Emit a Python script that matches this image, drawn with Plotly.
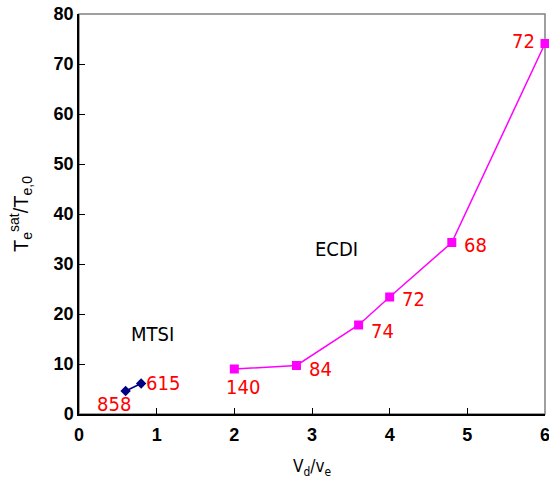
import plotly.graph_objects as go

# Data
mtsi_x = [0.6, 0.8]
mtsi_y = [4.6, 6.1]
mtsi_labels = ["858", "615"]
ecdi_x = [2.0, 2.8, 3.6, 4.0, 4.8, 6.0]
ecdi_y = [9.0, 9.7, 17.8, 23.4, 34.3, 74.1]
ecdi_labels = ["140", "84", "74", "72", "68", "72"]
x_ticks = [0, 1, 2, 3, 4, 5, 6]
y_ticks = [0, 10, 20, 30, 40, 50, 60, 70, 80]

FNT = "DejaVu Sans Condensed, DejaVu Sans, sans-serif"
lab_font = dict(family=FNT, size=20, color="red")
txt_font = dict(family=FNT, size=20, color="black")

fig = go.Figure()
fig.add_trace(go.Scatter(x=ecdi_x, y=ecdi_y, mode="lines+markers",
                         line=dict(color="#ff00ff", width=1.5),
                         marker=dict(symbol="square", size=9, color="#ff00ff"),
                         showlegend=False, cliponaxis=False))
fig.add_trace(go.Scatter(x=mtsi_x, y=mtsi_y, mode="lines+markers",
                         line=dict(color="#000080", width=1.5),
                         marker=dict(symbol="diamond", size=8, color="#000080"),
                         showlegend=False, cliponaxis=False))

# label offsets (pixels)
mtsi_off = [(-12, 13), (22, -1)]
ecdi_off = [(9, 18), (24, 3), (24, 6), (24, 2), (24, 2), (-22, -3)]
for x, y, t, (dx, dy) in zip(mtsi_x, mtsi_y, mtsi_labels, mtsi_off):
    fig.add_annotation(x=x, y=y, text=t, showarrow=False, xshift=dx, yshift=-dy, font=lab_font)
for x, y, t, (dx, dy) in zip(ecdi_x, ecdi_y, ecdi_labels, ecdi_off):
    fig.add_annotation(x=x, y=y, text=t, showarrow=False, xshift=dx, yshift=-dy, font=lab_font)

fig.add_annotation(x=0.95, y=16.0, text="MTSI", showarrow=False, font=txt_font)
fig.add_annotation(x=3.32, y=33.0, text="ECDI", showarrow=False, font=txt_font)

# gray top/right frame
fig.add_shape(type="rect", xref="paper", yref="paper", x0=0, y0=0, x1=1, y1=1,
              line=dict(color="#808080", width=1.5), layer="below")

axis_font = dict(family="Arial, Liberation Sans, sans-serif", size=18, color="black", weight="bold")
fig.update_layout(
    width=549, height=483,
    margin=dict(l=79, r=4, t=14, b=69),
    plot_bgcolor="white", paper_bgcolor="white",
    xaxis=dict(range=[0, 6], tickvals=x_ticks, automargin=False,
               ticks="inside", ticklen=6, tickcolor="black", showgrid=False, zeroline=False,
               showline=True, linecolor="black", linewidth=1.5, tickfont=axis_font,
               ticklabeloverflow="allow", ticklabelstandoff=4,
               title=dict(text="V<sub>d</sub>/v<sub>e</sub>", font=dict(family=FNT, size=17, color="black"), standoff=16)),
    yaxis=dict(range=[0, 80], tickvals=y_ticks, automargin=False,
               ticks="inside", ticklen=6, tickcolor="black", showgrid=False, zeroline=False,
               showline=True, linecolor="black", linewidth=1.5, tickfont=axis_font,
               title=dict(text="T<sub>e</sub><sup>sat</sup>/T<sub>e,0</sub>", font=dict(family="Arial, sans-serif", size=20, color="black"), standoff=20)),
)
fig.write_html("out.html")
